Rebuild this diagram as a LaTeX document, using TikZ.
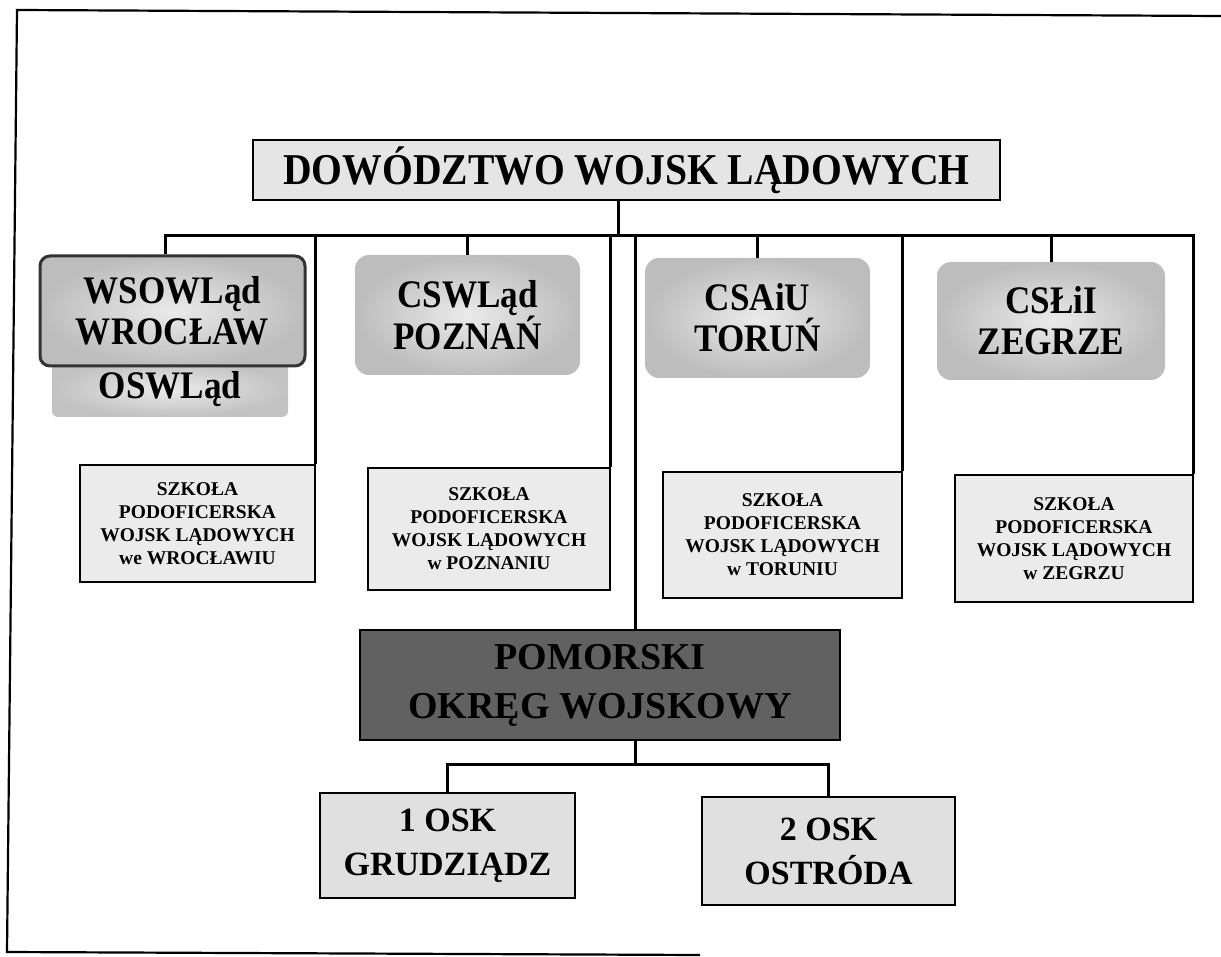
\documentclass[tikz,border=0pt]{standalone}
\usepackage{fontspec}
\setmainfont{Liberation Serif}
\newfontfamily\narrowfont[FakeStretch=0.9]{Liberation Serif}
\usetikzlibrary{calc}

\begin{document}
\begin{tikzpicture}[x=1pt,y=-1pt,
    conn/.style={line width=3pt, line join=miter},
    frameline/.style={line width=2.2pt},
    topbox/.style={draw, line width=1.5pt, fill=black!10, inner sep=0pt,
        font=\narrowfont\bfseries\fontsize{44}{48}\selectfont},
    unitbox/.style={rounded corners=14pt, inner color=black!8, outer color=black!26,
        inner sep=0pt, align=center, font=\narrowfont\bfseries\fontsize{39}{41}\selectfont},
    schoolbox/.style={draw, line width=1.5pt, fill=black!8, inner sep=0pt, align=center,
        font=\bfseries\fontsize{19.5}{23}\selectfont},
    oskbox/.style={draw, line width=1.5pt, fill=black!12,
        inner sep=0pt, align=center, font=\bfseries\fontsize{34}{44}\selectfont}
]

    % Page frame
    \useasboundingbox (0,0) rectangle (1221,957);
    \draw[frameline] (1221,16) -- (17,10) -- (7,952) -- (700,955);

    % Command
    \node[topbox, minimum width=747pt, minimum height=60pt] (dwl) at (626.5,170)
        {DOWÓDZTWO WOJSK LĄDOWYCH};

    % Schools of the first row
    \node[unitbox, rounded corners=6pt, minimum width=236pt, minimum height=56pt,
        inner color=black!8, outer color=black!24] (oswl) at (170,389) {OSWLąd};
    \node[unitbox, draw=black!80, line width=3pt, rounded corners=10pt,
        minimum width=265pt, minimum height=110pt] (wsowl) at (172.5,311)
        {WSOWLąd\\WROCŁAW};
    \node[unitbox, minimum width=225pt, minimum height=120pt] (cswl) at (467.5,315)
        {CSWLąd\\POZNAŃ};
    \node[unitbox, minimum width=225pt, minimum height=120pt] (csaiu) at (757.5,318)
        {CSAiU\\TORUŃ};
    \node[unitbox, minimum width=228pt, minimum height=118pt] (csli) at (1051,321)
        {CSŁiI\\ZEGRZE};

    % Non-commissioned officer schools
    \node[schoolbox, minimum width=235pt, minimum height=117pt] (szkW) at (197.5,523.5)
        {SZKOŁA\\PODOFICERSKA\\WOJSK LĄDOWYCH\\we WROCŁAWIU};
    \node[schoolbox, minimum width=242pt, minimum height=122pt] (szkP) at (489,529)
        {SZKOŁA\\PODOFICERSKA\\WOJSK LĄDOWYCH\\w POZNANIU};
    \node[schoolbox, minimum width=239pt, minimum height=126pt] (szkT) at (782.5,535)
        {SZKOŁA\\PODOFICERSKA\\WOJSK LĄDOWYCH\\w TORUNIU};
    \node[schoolbox, minimum width=238pt, minimum height=127pt] (szkZ) at (1074,538.5)
        {SZKOŁA\\PODOFICERSKA\\WOJSK LĄDOWYCH\\w ZEGRZU};

    % Military district and its centres
    \node[draw, line width=1.5pt, fill=black!62, inner sep=0pt, align=center,
        minimum width=480pt, minimum height=110pt,
        font=\bfseries\fontsize{38}{49}\selectfont] (pow) at (600,685)
        {POMORSKI\\OKRĘG WOJSKOWY};
    \node[oskbox, minimum width=255pt, minimum height=105pt] (osk1) at (447.5,845.5)
        {1 OSK\\GRUDZIĄDZ};
    \node[oskbox, minimum width=253pt, minimum height=108pt] (osk2) at (828.5,851)
        {2 OSK\\OSTRÓDA};

    % Upper connectors
    \coordinate (busL) at (165,236);
    \coordinate (dwlTap) at (618,236);
    \coordinate (powTap) at (635,236);
    \draw[conn] (dwl.south -| dwlTap) -- (dwlTap);
    \draw[conn] (szkZ.north east) -- (szkZ.north east |- busL) -- (busL)
        -- (wsowl.north -| busL);
    \foreach \n in {cswl,csaiu,csli}
        \draw[conn] (\n.north |- busL) -- (\n.north);
    \foreach \n in {szkW,szkP,szkT}
        \draw[conn] (\n.north east |- busL) -- (\n.north east);
    \draw[conn] (powTap) -- (pow.north -| powTap);

    % Lower connectors
    \coordinate (lowMid) at (635,764);
    \draw[conn] (pow.south -| lowMid) -- (lowMid);
    \draw[conn] (osk1.north) -- (osk1.north |- lowMid) -- (osk2.north |- lowMid)
        -- (osk2.north);

\end{tikzpicture}
\end{document}
